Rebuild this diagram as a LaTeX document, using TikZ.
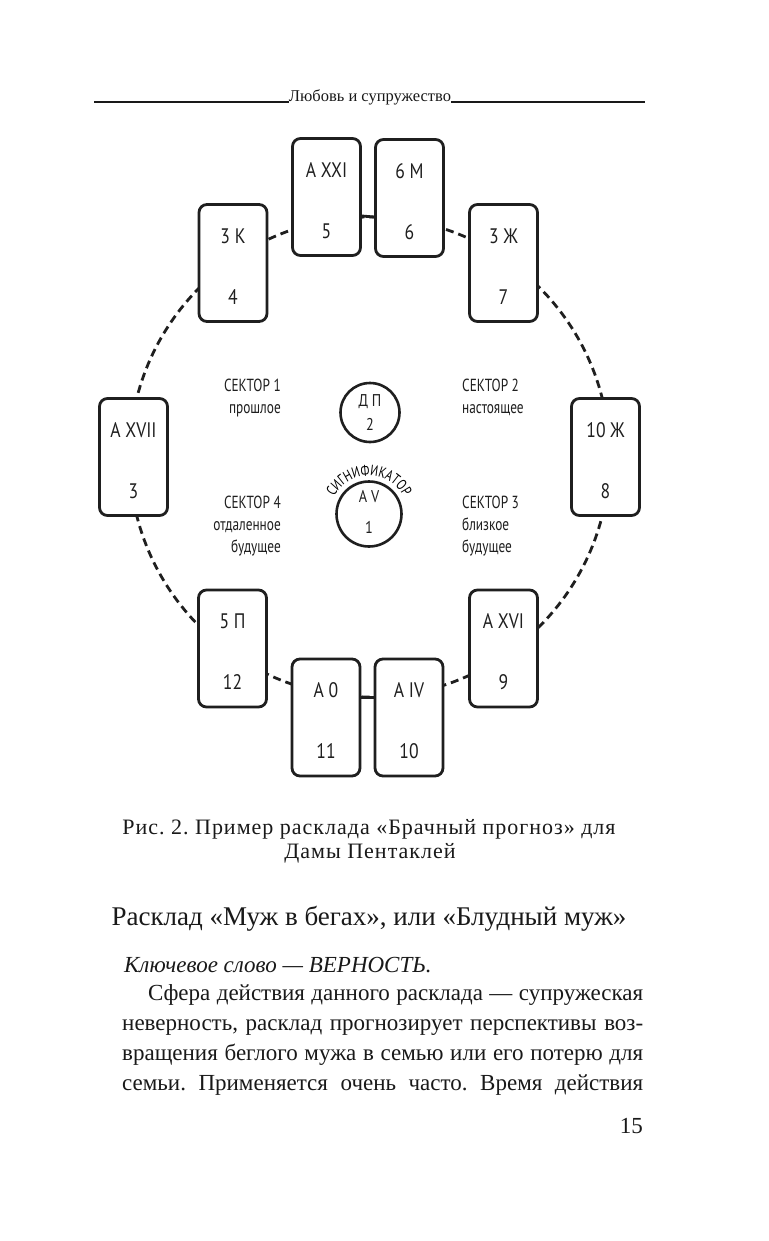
\documentclass[tikz,border=0pt]{standalone}
\usepackage{fontspec}
\setmainfont{Liberation Serif}
\newfontfamily\cond[FakeStretch=0.84]{PT Sans}
\newfontfamily\condb[FakeStretch=0.76]{PT Sans}
\usetikzlibrary{decorations.text}
\frenchspacing
\begin{document}
\begin{tikzpicture}[x=1pt,y=-1pt,
  card/.style={draw=black!88, line width=2.8pt, rounded corners=8pt, minimum width=68pt, minimum height=117pt, fill=white, inner sep=0pt},
  lab/.style={font=\cond\fontsize{21}{21}\selectfont, inner sep=0pt, text=black!88},
  sec/.style={font=\condb\fontsize{17.5}{17.5}\selectfont, inner sep=0pt, text=black!88},
  clab/.style={font=\cond\fontsize{17}{17}\selectfont, inner sep=0pt, text=black!88},
  ring/.style={draw=black!88, line width=2.8pt, dash pattern=on 8pt off 5pt},
  link/.style={draw=black!88, line width=2.8pt},
  disc/.style={draw=black!88, circle, line width=2.6pt, inner sep=0pt, fill=white},
  body/.style={font=\fontsize{23}{23}\selectfont, inner sep=0pt, text=black!90},
  capt/.style={font=\fontsize{22}{22}\selectfont\addfontfeature{LetterSpace=4.5}, inner sep=0pt, text=black!90},
  hline/.style={draw=black!90, line width=1.1pt}]
\fill[white] (0,0) rectangle (768,1241);
\useasboundingbox (0,0) rectangle (768,1241);

% header
\node[anchor=base, inner sep=0pt, font=\fontsize{16.5}{16.5}\selectfont, text=black!90] (hdr) at (370,102) {Любовь и супружество};
\coordinate (hl1) at (94,102);
\coordinate (hl2) at (645,102);
\draw[hline] (hl1) -- (hdr.base west);
\draw[hline] (hdr.base east) -- (hl2);

% ring
\coordinate (ctr) at (369.5,457);
\draw[ring] (ctr) circle[radius=240];

% cards
\node[card] (c5) at (326.5,197) {};
\node[card] (c6) at (409.5,198) {};
\node[card] (c4) at (233,263) {};
\node[card] (c7) at (503.5,263) {};
\node[card] (c3) at (133.5,457) {};
\node[card] (c8) at (605.5,457) {};
\node[card] (c12) at (232.5,648.5) {};
\node[card] (c9) at (503.5,648.5) {};
\node[card] (c11) at (326,717.5) {};
\node[card] (c10) at (409,717.5) {};

\draw[link] ([yshift=-19pt]c5.east) -- ([yshift=-19pt]c6.west);
\draw[link] ([yshift=20pt]c11.east) -- ([yshift=20pt]c10.west);

% card labels
\node[lab] (c5t) at ([yshift=27pt]c5.center) {A XXI};
\node[lab] (c5n) at ([yshift=-34pt]c5.center) {5};
\node[lab] (c6t) at ([yshift=27pt]c6.center) {6 M};
\node[lab] (c6n) at ([yshift=-34pt]c6.center) {6};
\node[lab] (c4t) at ([yshift=27pt]c4.center) {3 К};
\node[lab] (c4n) at ([yshift=-34pt]c4.center) {4};
\node[lab] (c7t) at ([yshift=27pt]c7.center) {3 Ж};
\node[lab] (c7n) at ([yshift=-34pt]c7.center) {7};
\node[lab] (c3t) at ([yshift=27pt]c3.center) {A XVII};
\node[lab] (c3n) at ([yshift=-34pt]c3.center) {3};
\node[lab] (c8t) at ([yshift=27pt]c8.center) {10 Ж};
\node[lab] (c8n) at ([yshift=-34pt]c8.center) {8};
\node[lab] (c12t) at ([yshift=27pt]c12.center) {5 П};
\node[lab] (c12n) at ([yshift=-34pt]c12.center) {12};
\node[lab] (c9t) at ([yshift=27pt]c9.center) {A XVI};
\node[lab] (c9n) at ([yshift=-34pt]c9.center) {9};
\node[lab] (c11t) at ([yshift=27pt]c11.center) {A 0};
\node[lab] (c11n) at ([yshift=-34pt]c11.center) {11};
\node[lab] (c10t) at ([yshift=27pt]c10.center) {A IV};
\node[lab] (c10n) at ([yshift=-34pt]c10.center) {10};

% center circles
\node[disc, minimum size=59pt] (dp) at (370,412.5) {};
\node[clab] (dpt) at (370,402) {Д П};
\node[clab] (dpn) at (370,424) {2};
\node[disc, minimum size=65pt] (av) at (369,514) {};
\node[clab] (avt) at (369,497) {A V};
\node[clab] (avn) at (369,527) {1};
\path[decorate, decoration={text along path, text align=center,
   text={|\condb\fontsize{15}{15}\selectfont|СИГНИФИКАТОР}}]
   (av) ++(-154:38.5) arc[start angle=-154, end angle=-26, radius=38.5];

% sectors
\node[sec, anchor=base east] (s1a) at (281,391) {СЕКТОР 1};
\node[sec, anchor=base east] (s1b) at (281,413) {прошлое};
\node[sec, anchor=base west] (s2a) at (462,391) {СЕКТОР 2};
\node[sec, anchor=base west] (s2b) at (462,413) {настоящее};
\node[sec, anchor=base east] (s4a) at (281,508) {СЕКТОР 4};
\node[sec, anchor=base east] (s4b) at (281,530) {отдаленное};
\node[sec, anchor=base east] (s4c) at (281,552) {будущее};
\node[sec, anchor=base west] (s3a) at (462,508) {СЕКТОР 3};
\node[sec, anchor=base west] (s3b) at (462,530) {близкое};
\node[sec, anchor=base west] (s3c) at (462,552) {будущее};

% caption
\node[capt, anchor=base] (cap1) at (369,834) {Рис. 2. Пример расклада «Брачный прогноз» для};
\node[capt, anchor=base] (cap2) at (370,858) {Дамы Пентаклей};

% heading
\node[anchor=base, inner sep=0pt, text=black!90, font=\fontsize{27}{27}\selectfont] (head) at (369,925) {Расклад «Муж в бегах», или «Блудный муж»};

% body
\node[body, anchor=base west] (kw) at (124,972) {\itshape Ключевое слово — ВЕРНОСТЬ.};
\node[body, anchor=base west] (p1) at (148,1000) {\makebox[495pt][s]{Сфера действия данного расклада — супружеская}};
\node[body, anchor=base west] (p2) at (122,1030) {\makebox[521pt][s]{неверность, расклад прогнозирует перспективы воз-}};
\node[body, anchor=base west] (p3) at (122,1060) {\makebox[521pt][s]{вращения беглого мужа в семью или его потерю для}};
\node[body, anchor=base west] (p4) at (122,1090) {\makebox[521pt][s]{семьи. Применяется очень часто. Время действия}};
\node[body, anchor=base east] (pg) at (643,1133) {15};
\end{tikzpicture}
\end{document}
